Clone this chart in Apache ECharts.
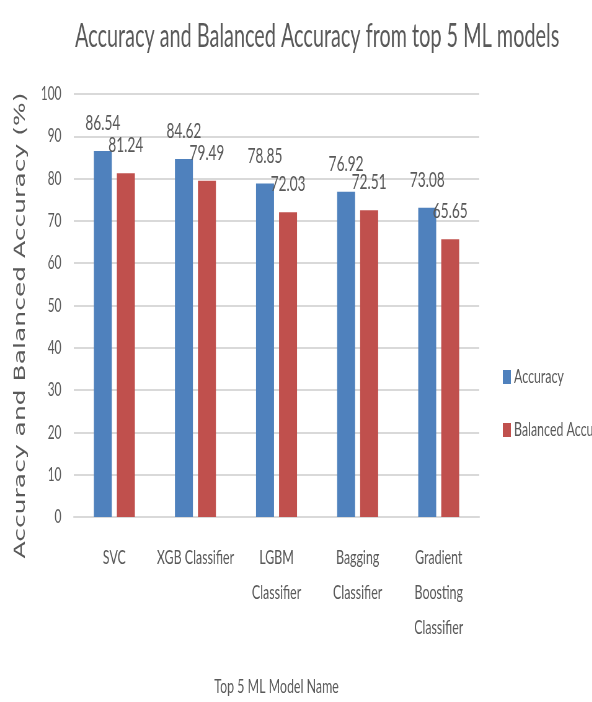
<!DOCTYPE html>
<html>
<head>
<meta charset="utf-8">
<title>Top 5 ML models</title>
<script src="https://cdn.jsdelivr.net/npm/echarts@6/dist/echarts.min.js"></script>
<style>
  html, body { margin: 0; padding: 0; overflow: hidden; background: #fff; }
  /* the source chart is squeezed sideways, so draw wide and squeeze it back */
  #chart { width: 955px; height: 702px; transform: scaleX(0.62); transform-origin: 0 0; }
</style>
</head>
<body>
<div id="chart"></div>
<script>
var models = ['SVC', 'XGB Classifier', 'LGBM\nClassifier', 'Bagging\nClassifier', 'Gradient\nBoosting\nClassifier'];
var accuracy = [86.54, 84.62, 78.85, 76.92, 73.08];
var balancedAccuracy = [81.24, 79.49, 72.03, 72.51, 65.65];

var grey = '#595959';
var font = 'Lato';

var chart = echarts.init(document.getElementById('chart'));
chart.setOption({
    animation: false,
    title: {
        text: 'Accuracy and Balanced Accuracy from top 5 ML models',
        left: 116,
        top: 16,
        textStyle: { color: grey, fontFamily: font, fontSize: 32, fontWeight: 'normal' }
    },
    legend: {
        orient: 'vertical',
        left: 806,
        top: 362,
        itemGap: 33,
        itemWidth: 13,
        itemHeight: 14,
        icon: 'rect',
        textStyle: { color: grey, fontFamily: font, fontSize: 20 },
        data: ['Accuracy', 'Balanced Accuracy']
    },
    grid: { left: 119, right: 182, top: 94, bottom: 176 },
    xAxis: {
        type: 'category',
        data: models,
        name: 'Top 5 ML Model Name',
        nameLocation: 'middle',
        nameGap: 160,
        nameTextStyle: { color: grey, fontFamily: font, fontSize: 20 },
        axisLine: { lineStyle: { color: '#d9d9d9', width: 2 } },
        axisTick: { show: false },
        axisLabel: { interval: 0, color: grey, fontFamily: font, fontSize: 20, lineHeight: 35, margin: 23 }
    },
    yAxis: {
        type: 'value',
        min: 0,
        max: 100,
        interval: 10,
        name: 'Accuracy and Balanced Accuracy (%)',
        nameLocation: 'middle',
        nameGap: 73,
        nameTextStyle: { color: grey, fontFamily: 'DejaVu Sans', fontSize: 25, padding: [0, 40, 0, 0] },
        axisLabel: { color: grey, fontFamily: font, fontSize: 19, margin: 20 },
        splitLine: { lineStyle: { color: '#d9d9d9', width: 2 } }
    },
    series: [
        {
            name: 'Accuracy',
            type: 'bar',
            data: accuracy,
            barWidth: 29,
            barGap: '28%',
            itemStyle: { color: '#4f81bd' },
            label: { show: true, position: 'top', distance: 17, color: grey, fontFamily: font, fontSize: 22 }
        },
        {
            name: 'Balanced Accuracy',
            type: 'bar',
            data: balancedAccuracy,
            barWidth: 29,
            itemStyle: { color: '#c0504d' },
            label: { show: true, position: 'top', distance: 17, color: grey, fontFamily: font, fontSize: 22 }
        }
    ]
});
window.onresize = chart.resize;
</script>
</body>
</html>
